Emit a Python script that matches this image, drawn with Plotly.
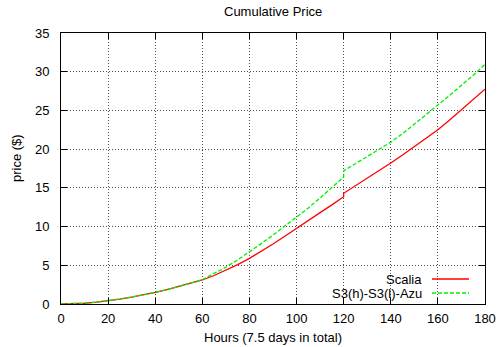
import plotly.graph_objects as go

hours = [0, 5, 10, 15, 20, 25, 30, 35, 40, 45, 50, 55, 60, 65, 70, 75, 80, 85, 90, 95, 100,
         105, 110, 115, 120, 120, 125, 130, 135, 140, 145, 150, 155, 160, 165, 170, 175, 180]
scalia = [0, 0.03, 0.1, 0.23, 0.42, 0.64, 0.9, 1.18, 1.5, 1.86, 2.25, 2.66, 3.1, 3.68, 4.33, 5.08, 5.9,
          6.8, 7.75, 8.75, 9.8, 10.8, 11.8, 12.8, 13.85, 14.3, 15.25, 16.2, 17.2, 18.2, 19.25, 20.3,
          21.4, 22.5, 23.75, 25.05, 26.4, 27.75]
s3_azu = [0, 0.03, 0.1, 0.23, 0.42, 0.64, 0.9, 1.18, 1.5, 1.86, 2.25, 2.68, 3.15, 3.9, 4.75, 5.7, 6.7,
          7.8, 8.9, 10.05, 11.2, 12.4, 13.7, 15.0, 16.4, 17.2, 18.1, 19.05, 20.0, 20.9, 22.0, 23.2,
          24.4, 25.7, 26.95, 28.2, 29.55, 30.95]
series_names = ["Scalia", "S3(h)-S3(l)-Azu"]
series_colors = ["#ff0000", "#00ee00"]
series_dash = ["solid", "4px,2px"]

FONT = "Liberation Sans, Arial, sans-serif"

fig = go.Figure()
for vals, name, col, dash in zip([scalia, s3_azu], series_names, series_colors, series_dash):
    fig.add_trace(go.Scatter(x=hours, y=vals, mode="lines", name=name,
                             line=dict(color=col, width=1.3, dash=dash)))

axis_common = dict(
    showline=True, linecolor="black", linewidth=1, mirror="allticks",
    ticks="inside", ticklen=6, tickcolor="black", tickwidth=1,
    showgrid=True, gridcolor="rgba(0,0,0,0.7)", gridwidth=1, griddash="1px,2px",
    zeroline=False, automargin=False, tickfont=dict(family=FONT, size=13, color="black"),
)

fig.update_xaxes(range=[0, 180], tickvals=[0, 20, 40, 60, 80, 100, 120, 140, 160, 180],
                 ticklabelstandoff=2, **axis_common)
fig.update_yaxes(range=[0, 35], tickvals=[0, 5, 10, 15, 20, 25, 30, 35],
                 ticklabelstandoff=8, **axis_common)

annotations = [
    dict(text="Cumulative Price", x=0.5, y=(304 - 12) / 271, xref="paper", yref="paper",
         showarrow=False, yanchor="middle"),
    dict(text="Hours (7.5 days in total)", x=0.5, y=(304 - 337) / 271, xref="paper", yref="paper",
         showarrow=False, yanchor="middle"),
    dict(text="price ($)", x=(16 - 61) / 424, y=(304 - 158) / 271, xref="paper", yref="paper",
         showarrow=False, textangle=-90, xanchor="center", yanchor="middle"),
]

shapes = []
leg_y = [(304 - 279) / 271, (304 - 293) / 271]
for name, col, dash, yy in zip(series_names, series_colors, series_dash, leg_y):
    annotations.append(dict(text=name, x=(424 - 61) / 424, y=yy, xref="paper", yref="paper",
                            showarrow=False, xanchor="right", yanchor="middle"))
    shapes.append(dict(type="line", xref="paper", yref="paper", x0=(432 - 61) / 424, x1=(469 - 61) / 424,
                       y0=yy, y1=yy, line=dict(color=col, width=1.3, dash=dash)))

fig.update_layout(
    width=497, height=347,
    margin=dict(l=61, r=12, t=33, b=43),
    paper_bgcolor="white", plot_bgcolor="white",
    showlegend=False,
    font=dict(family=FONT, size=13, color="black"),
    annotations=annotations, shapes=shapes,
)

fig.write_html("out.html")
